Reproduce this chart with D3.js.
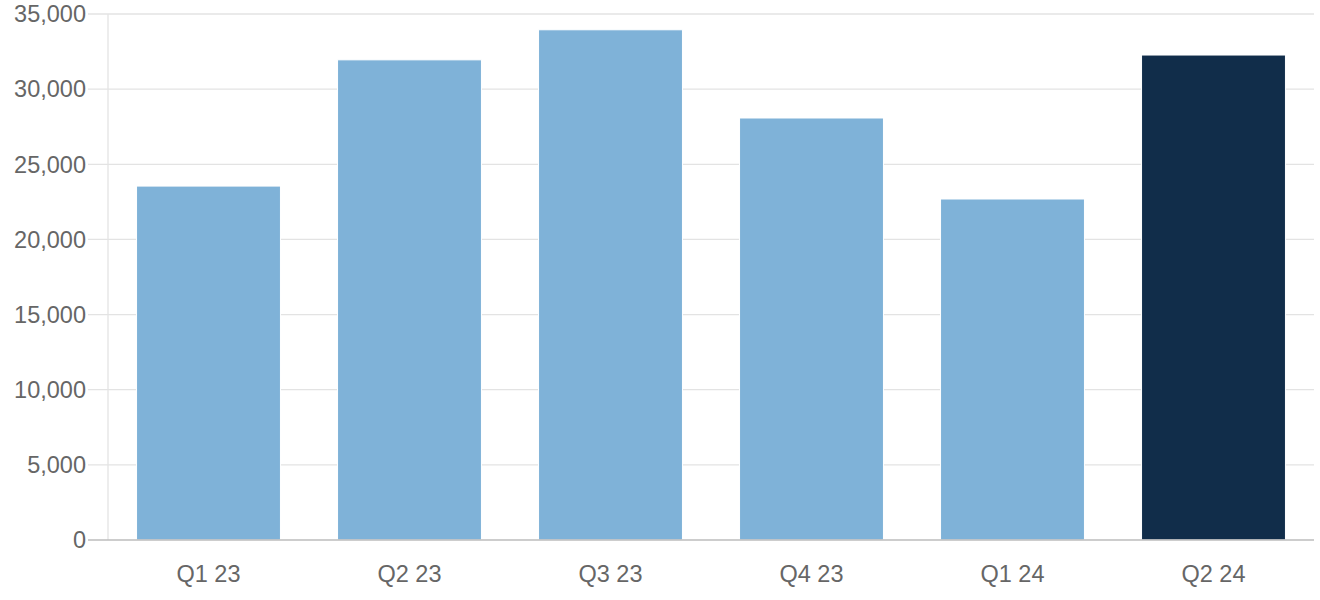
<!DOCTYPE html>
<html><head><meta charset="utf-8">
<script src="https://cdn.jsdelivr.net/npm/d3@7"></script>
<style>body{margin:0;background:#fff}svg{display:block}</style>
</head><body>
<svg id="chart" width="1320" height="600"></svg>
<script>
const categories = ["Q1 23","Q2 23","Q3 23","Q4 23","Q1 24","Q2 24"];
const values = [23550, 31950, 33950, 28080, 22690, 32270];
const highlight = [false, false, false, false, false, true];
const yTicks = [0,5000,10000,15000,20000,25000,30000,35000];

const svg = d3.select("#chart");
const m = {left:108, right:1314, top:14, bottom:540};
const x = d3.scaleBand().domain(categories).range([m.left, m.right]).paddingInner(0.284).paddingOuter(0.142);
const y = d3.scaleLinear().domain([0,35000]).range([m.bottom, m.top]);
const font = "'Liberation Sans', Arial, sans-serif";

// grid
svg.append("g").selectAll("line").data(yTicks.filter(d=>d>0)).join("line")
  .attr("x1", 88).attr("x2", m.right)
  .attr("y1", d=>y(d)).attr("y2", d=>y(d))
  .attr("stroke", "#e3e3e3").attr("stroke-width", 1.3);
// y axis vertical line
svg.append("line").attr("x1", m.left).attr("x2", m.left).attr("y1", m.top).attr("y2", m.bottom)
  .attr("stroke", "#e3e3e3").attr("stroke-width", 1.3);

// bars
svg.append("g").selectAll("rect").data(categories).join("rect")
  .attr("x", d=>x(d)).attr("width", x.bandwidth())
  .attr("y", (d,i)=>y(values[i])).attr("height", (d,i)=>y(0)-y(values[i]))
  .attr("fill", (d,i)=>highlight[i] ? "#112d4a" : "#7fb2d8")
  .attr("stroke", "#ffffff").attr("stroke-width", 1);

// baseline
svg.append("line").attr("x1", 88).attr("x2", m.right).attr("y1", y(0)).attr("y2", y(0))
  .attr("stroke", "#bdbdbd").attr("stroke-width", 1.5);

// y labels
svg.append("g").selectAll("text").data(yTicks).join("text")
  .attr("x", 86).attr("y", d=>y(d)).attr("dy", "0.35em")
  .attr("text-anchor", "end").attr("font-family", font).attr("font-size", 23.5)
  .attr("fill", "#666666").text(d=>d3.format(",")(d));

// x labels
svg.append("g").selectAll("text").data(categories).join("text")
  .attr("x", d=>x(d)+x.bandwidth()/2).attr("y", 574).attr("dy", "0.35em")
  .attr("text-anchor", "middle").attr("font-family", font).attr("font-size", 23.5)
  .attr("fill", "#666666").text(d=>d);
</script>
</body></html>
